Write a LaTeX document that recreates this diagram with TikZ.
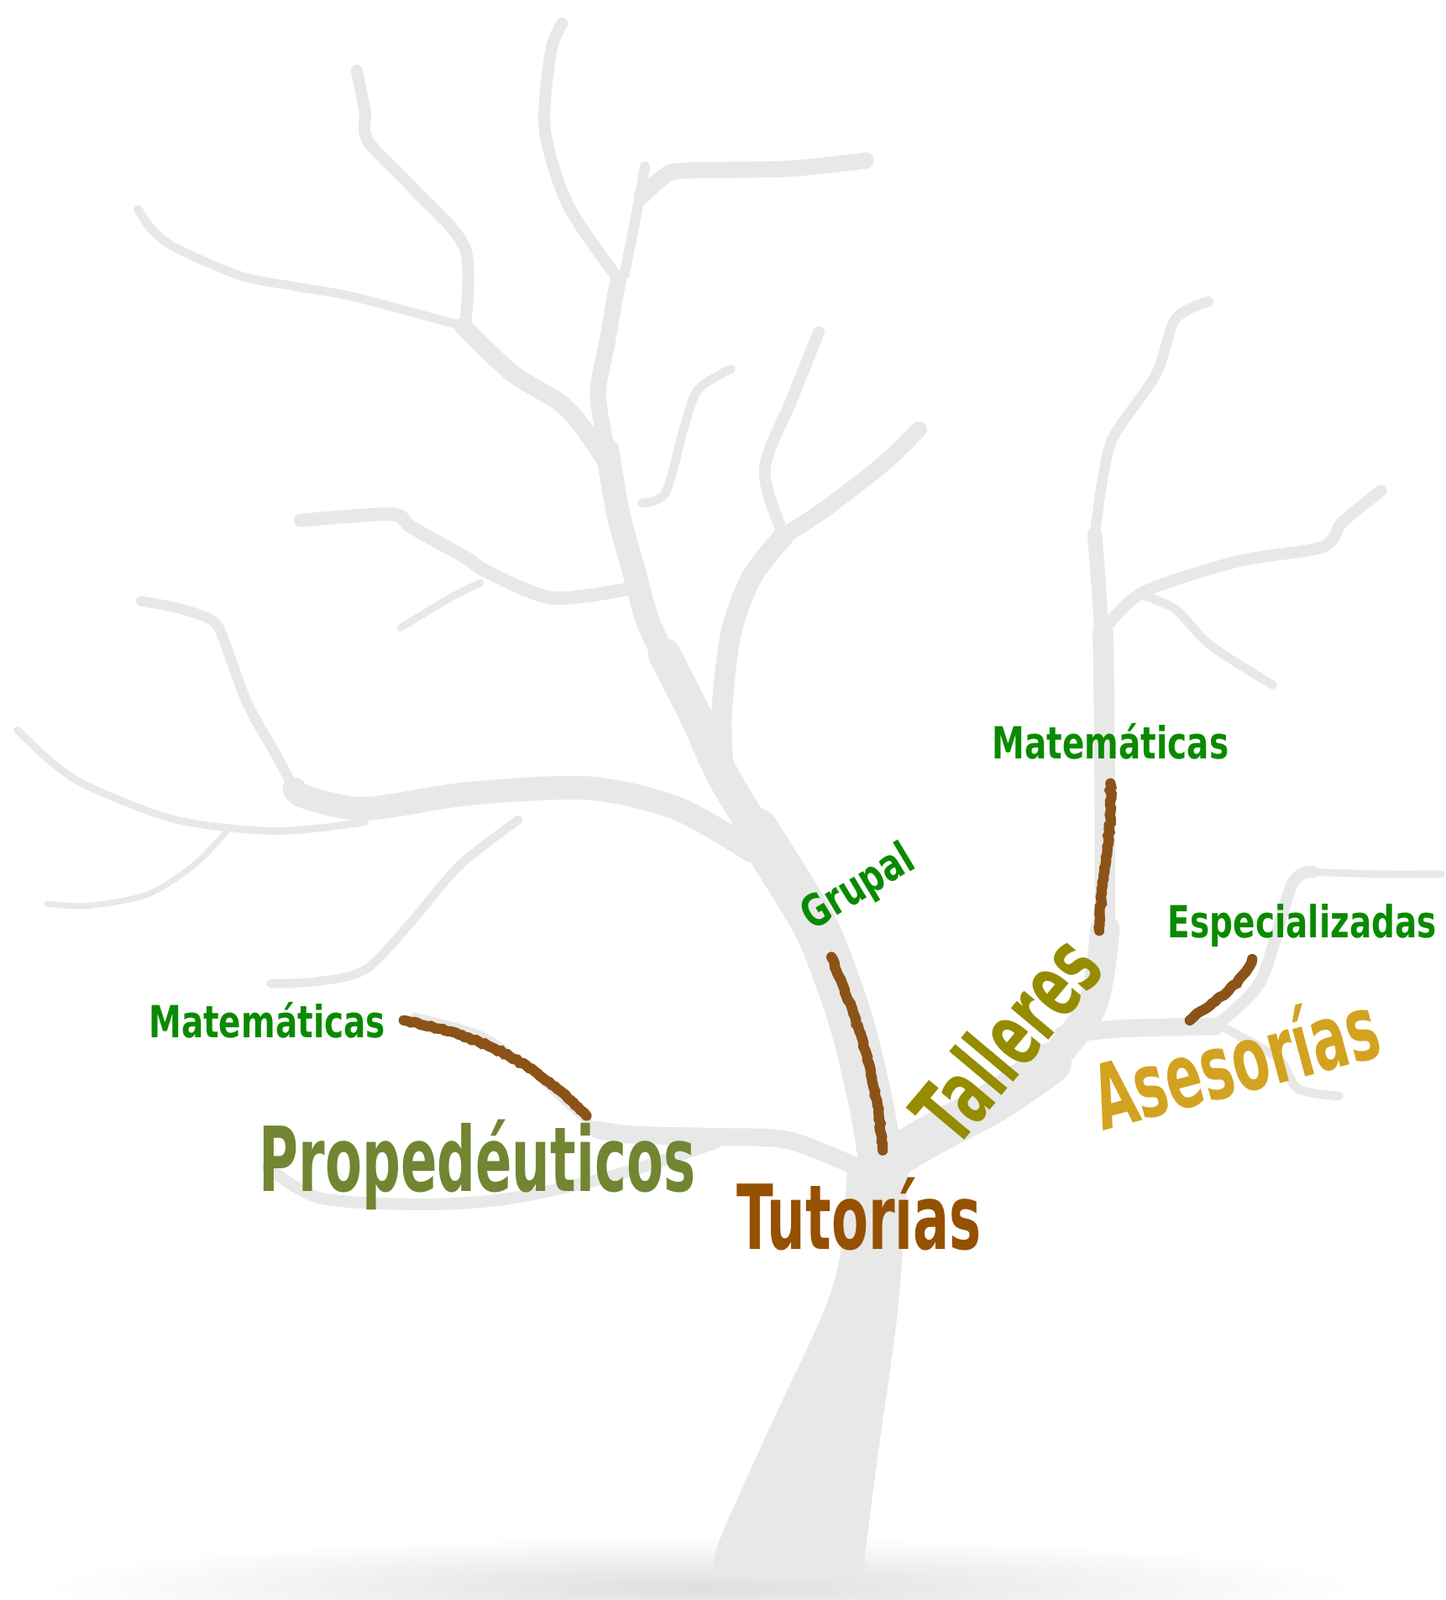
\documentclass[tikz,border=0pt]{standalone}
\usepackage{fontspec}
\usepackage{xcolor}
\usetikzlibrary{decorations.pathmorphing}

\newfontfamily\leaffont{DejaVu Sans}[FakeStretch=0.74]
\newfontfamily\limbfont{DejaVu Sans}[FakeStretch=0.6]

\definecolor{bark}{HTML}{E8E8E8}
\definecolor{leafgreen}{HTML}{0A8A00}
\definecolor{propgreen}{HTML}{718532}
\definecolor{tutorbrown}{HTML}{955000}
\definecolor{tallerolive}{HTML}{958C00}
\definecolor{asesorgold}{HTML}{D3A221}
\definecolor{twigbrown}{HTML}{8B5317}

\begin{document}
\begin{tikzpicture}[x=0.01217cm, y=-0.01217cm,
	limb/.style={draw=bark, line cap=round, line join=round},
	tag/.style={font=\leaffont\bfseries\fontsize{15}{18}\selectfont, text=leafgreen, inner sep=0pt},
	bigtag/.style={font=\limbfont\bfseries\fontsize{30.4}{36}\selectfont, inner sep=0pt},
	twig/.style={draw=twigbrown, line width=3.5pt, line cap=round, decorate,
		decoration={random steps, segment length=1.2pt, amplitude=0.3pt}}]

	\useasboundingbox (0,0) rectangle (1414,1565);

	% Ground and trunk
	\shade[inner color=bark!96!black, outer color=white] (685,1552) ellipse [x radius=7.8cm, y radius=0.6cm];
	\fill[bark] plot[smooth] coordinates {(700,1545) (703,1509) (757,1388) (805,1285) (822,1227) (829,1140)}
		-- plot[smooth] coordinates {(890,1123) (883,1227) (876,1302) (859,1422) (846,1526) (848,1545)} -- cycle;

	% Main stem
	\draw[limb, line width=4pt] plot[smooth] coordinates {(550,23) (539,50) (533,126) (556,201) (605,273)};
	\draw[limb, line width=3.5pt] plot[smooth] coordinates {(631,163) (625,197) (611,268)};
	\draw[limb, line width=5.5pt] plot[smooth] coordinates {(628,192) (648,174) (668,167) (772,165) (847,157)};
	\draw[limb, line width=5.5pt] plot[smooth] coordinates {(605,273) (600,300) (594,335) (585,386) (594,440)};
	\draw[limb, line width=8pt] plot[smooth] coordinates {(594,440) (605,503) (620,558) (634,608) (657,657)};
	\draw[limb, line width=11pt] plot[smooth] coordinates {(650,640) (680,699) (709,762) (749,827)};
	\draw[limb, line width=15pt] plot[smooth] coordinates {(740,812) (795,901) (818,956) (836,1011) (853,1084) (862,1140)};

	% Right limb
	\draw[limb, line width=14pt] plot[smooth] coordinates {(870,1135) (908,1112) (974,1077) (1028,1040)};
	\draw[limb, line width=10pt] plot[smooth] coordinates {(1020,1048) (1068,985) (1081,909)};
	\draw[limb, line width=7pt] plot[smooth] coordinates {(1081,930) (1081,800) (1080,680) (1079,618)};
	\draw[limb, line width=5pt] plot[smooth] coordinates {(1079,640) (1075,575) (1071,523)};
	\draw[limb, line width=3.5pt] plot[smooth] coordinates {(1071,523) (1079,467) (1090,426) (1131,366) (1150,312) (1182,295)};
	\draw[limb, line width=4pt] plot[smooth] coordinates {(1079,618) (1117,580) (1211,549) (1294,535) (1313,511) (1351,480)};
	\draw[limb, line width=3pt] plot[smooth] coordinates {(1117,582) (1150,596) (1184,631) (1245,670)};
	\draw[limb, line width=6pt] plot[smooth] coordinates {(1040,1012) (1100,1006) (1188,1004)};
	\draw[limb, line width=4pt] plot[smooth] coordinates {(1188,1004) (1233,960) (1264,865) (1285,853)};
	\draw[limb, line width=2.5pt] plot[smooth] coordinates {(1285,853) (1350,855) (1410,855)};
	\draw[limb, line width=3pt] plot[smooth] coordinates {(1195,1004) (1250,1035) (1270,1065) (1310,1072)};

	% Middle limb
	\draw[limb, line width=7pt] plot[smooth] coordinates {(708,760) (706,699) (715,620) (735,565) (767,524)};
	\draw[limb, line width=5.5pt] plot[smooth] coordinates {(767,524) (807,498) (865,453) (899,420)};
	\draw[limb, line width=4pt] plot[smooth] coordinates {(767,524) (748,460) (775,390) (801,325)};

	% Left limbs
	\draw[limb, line width=4pt] plot[smooth] coordinates {(349,69) (357,109) (360,138) (404,184) (455,243) (455,319)};
	\draw[limb, line width=3pt] plot[smooth] coordinates {(453,319) (398,304) (340,289) (288,280) (236,270) (173,243) (150,226) (135,205)};
	\draw[limb, line width=6pt] plot[smooth] coordinates {(453,319) (501,365) (548,394) (571,419) (592,450)};
	\draw[limb, line width=3pt] plot[smooth] coordinates {(628,492) (651,482) (669,419) (683,381) (715,361)};
	\draw[limb, line width=4.5pt] plot[smooth] coordinates {(625,574) (542,585) (478,560) (455,545) (403,516) (383,503) (294,509)};
	\draw[limb, line width=2.5pt] plot[smooth] coordinates {(470,570) (440,585) (392,614)};
	\draw[limb, line width=8pt] plot[smooth] coordinates {(735,832) (663,791) (577,771) (461,776) (357,791) (300,780) (288,772)};
	\draw[limb, line width=3.5pt] plot[smooth] coordinates {(288,772) (271,740) (242,688) (219,626) (208,607) (175,595) (138,588)};
	\draw[limb, line width=2.5pt] plot[smooth] coordinates {(17,714) (50,745) (86,769) (173,802) (271,813) (357,804)};
	\draw[limb, line width=2pt] plot[smooth] coordinates {(222,813) (190,846) (144,875) (86,886) (46,884)};
	\draw[limb, line width=3pt] plot[smooth] coordinates {(507,802) (450,846) (403,901) (358,948) (311,960) (265,962)};
	\draw[limb, line width=6pt] plot[smooth] coordinates {(835,1140) (770,1115) (700,1112) (620,1110) (585,1105)};
	\draw[limb, line width=4pt] plot[smooth] coordinates {(700,1118) (600,1150) (500,1172) (417,1178) (314,1172) (262,1142)};
	\draw[limb, line width=2.5pt] plot[smooth] coordinates {(585,1105) (555,1080) (515,1043) (470,1012) (405,994)};

	% Nodes
	\node[tag, anchor=base west] (matL) at (145,1015) {Matemáticas};
	\node[bigtag, text=propgreen, anchor=base west] (proped) at (253,1165) {Propedéuticos};
	\node[bigtag, text=tutorbrown, anchor=base west] (tutor) at (720,1222) {Tutorías};
	\node[tag, rotate=31] (grupal) at (840,869) {Grupal};
	\node[bigtag, text=tallerolive, rotate=50] (talleres) at (984,1016) {Talleres};
	\node[tag, anchor=base west] (matR) at (970,742) {Matemáticas};
	\node[tag, anchor=base west] (espec) at (1142,917) {Especializadas};
	\node[bigtag, text=asesorgold, rotate=15] (asesor) at (1208,1036) {Asesorías};

	% Edges
	\draw[twig] ([xshift=6pt]matL.east) to[out=-12, in=135] ([xshift=37pt, yshift=1pt]proped.north);
	\draw[twig] ([xshift=5pt, yshift=-6pt]grupal.south west) to[out=-68, in=95] ([xshift=8pt, yshift=9pt]tutor.north);
	\draw[twig] ([yshift=-8pt]matR.south) to[out=-88, in=88] ([xshift=6pt, yshift=6pt]talleres.east);
	\draw[twig] ([xshift=-17pt, yshift=-4pt]espec.south) to[out=-115, in=40] ([xshift=-12pt, yshift=1pt]asesor.north);

\end{tikzpicture}
\end{document}
